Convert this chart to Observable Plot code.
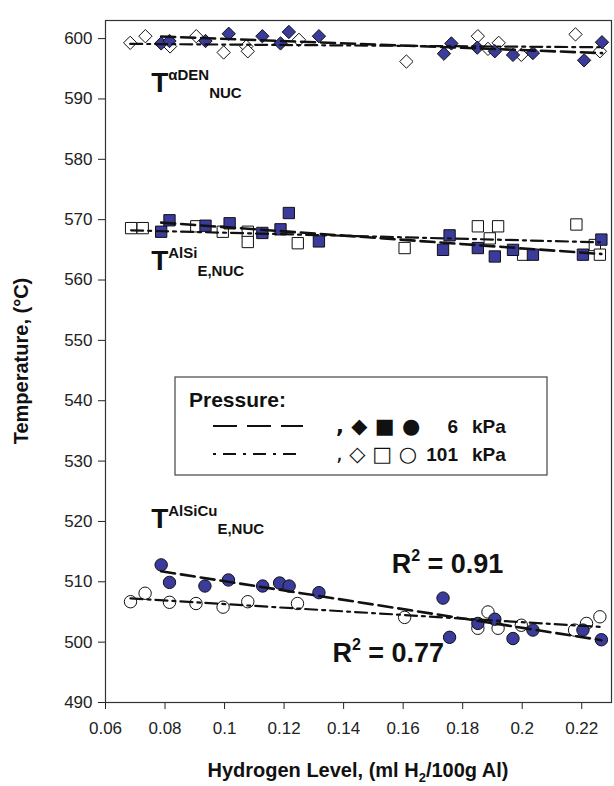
<!DOCTYPE html>
<html><head><meta charset="utf-8">
<script src="https://cdn.jsdelivr.net/npm/d3@7"></script>
<script src="https://cdn.jsdelivr.net/npm/@observablehq/plot@0.6"></script>
<style>
body{margin:0;background:#fff}
svg{font-family:"Liberation Sans",Arial,sans-serif}
</style>
</head><body><div id="chart"></div>
<script>
// ---- data ----
// alpha-Al dendrite nucleation (diamonds)
const diaLowX  = [0.0787,0.0815,0.0936,0.1014,0.1127,0.1188,0.1216,0.1317,0.1737,0.1762,0.1849,0.1908,0.1969,0.2036,0.2208,0.2268];
const diaLowY  = [599.2,599.6,599.6,600.8,600.4,599.2,601.1,600.4,597.5,599.2,598.5,597.9,597.3,597.6,596.4,599.4];
const diaAtmX  = [0.0683,0.0734,0.0817,0.0905,0.0997,0.1073,0.1078,0.1250,0.1611,0.1851,0.1885,0.1921,0.1997,0.2179,0.2261];
const diaAtmY  = [599.3,600.4,598.7,600.4,597.7,598.7,597.9,599.8,596.2,600.4,598.3,599.3,597.3,600.7,597.9];
// Al-Si eutectic nucleation (squares)
const sqLowX   = [0.0787,0.0815,0.0936,0.1017,0.1127,0.1188,0.1216,0.1317,0.1734,0.1756,0.1851,0.1908,0.1969,0.2036,0.2204,0.2266];
const sqLowY   = [568.0,569.9,569.0,569.4,567.8,568.4,571.1,566.4,565.0,567.4,565.3,563.9,565.0,564.2,564.2,566.7];
const sqAtmX   = [0.0686,0.0725,0.0905,0.0994,0.1078,0.1078,0.1246,0.1605,0.1851,0.1891,0.1919,0.2003,0.2182,0.2244,0.2261];
const sqAtmY   = [568.6,568.6,568.9,568.0,568.0,566.3,566.1,565.3,568.9,566.9,568.9,564.2,569.2,565.8,564.2];
// Al-Si-Cu eutectic nucleation (circles)
const ciLowX   = [0.0787,0.0815,0.0934,0.1013,0.1128,0.1185,0.1217,0.1317,0.1734,0.1756,0.1851,0.1908,0.1969,0.2036,0.2204,0.2266];
const ciLowY   = [512.8,509.9,509.3,510.3,509.3,509.8,509.3,508.2,507.3,500.8,503.1,503.8,500.6,502.0,502.0,500.4];
const ciAtmX   = [0.0684,0.0733,0.0815,0.0904,0.0995,0.1078,0.1245,0.1605,0.1885,0.1851,0.1919,0.1997,0.2176,0.2216,0.2261];
const ciAtmY   = [506.7,508.1,506.6,506.4,505.8,506.7,506.4,504.1,505.0,502.3,502.3,502.8,502.0,503.1,504.2];

const xTicks = [0.06,0.08,0.10,0.12,0.14,0.16,0.18,0.20,0.22];
const xTickLabels = ["0.06","0.08","0.1","0.12","0.14","0.16","0.18","0.2","0.22"];
const yTicks = [490,500,510,520,530,540,550,560,570,580,590,600];

const seriesLabels = [
  {x: 0.0755, y: 591.0, sup: "αDEN",   sub: "NUC"},
  {x: 0.0755, y: 561.5, sup: "AlSi",   sub: "E,NUC"},
  {x: 0.0755, y: 518.9, sup: "AlSiCu", sub: "E,NUC"}
];
const r2Labels = [
  {x: 0.1563, y: 511.4, text: "0.91"},
  {x: 0.1364, y: 496.7, text: "0.77"}
];
const legendTitle = "Pressure:";
const legendRows = [
  {symbols: ", ◆ ■ ●", value: "6", unit: "kPa", dash: "24,10"},
  {symbols: ", ◇ □ ○", value: "101", unit: "kPa", dash: "3,7,13,7"}
];

// ---- build rows ----
const rows = [];
function add(xs, ys, shape, pressure) {
  xs.forEach((x, i) => rows.push({x, y: ys[i], shape, pressure}));
}
add(diaLowX, diaLowY, "diamond2", "6");
add(diaAtmX, diaAtmY, "diamond2", "101");
add(sqLowX, sqLowY, "square2", "6");
add(sqAtmX, sqAtmY, "square2", "101");
add(ciLowX, ciLowY, "circle", "6");
add(ciAtmX, ciAtmY, "circle", "101");

const FILL = "#3b3b9c";
const dotMarks = [];
for (const p of ["101", "6"]) {
  for (const s of ["diamond2", "square2", "circle"]) {
    const sub = rows.filter(d => d.pressure === p && d.shape === s);
    const r = s === "circle" ? 6.2 : s === "square2" ? 7.2 : 6.0;
    dotMarks.push(Plot.dot(sub, {x: "x", y: "y", symbol: s, r, fill: p === "6" ? FILL : "white", stroke: "#111", strokeWidth: 1}));
  }
}

const plot = Plot.plot({
  width: 614, height: 786,
  marginTop: 20, marginRight: 3, marginBottom: 84, marginLeft: 105,
  style: {fontFamily: '"Liberation Sans", Arial, sans-serif', fontSize: "16px", color: "#222", background: "white"},
  x: {domain: [0.06, 0.23]},
  y: {domain: [490, 603]},
  marks: [
    Plot.axisY({ticks: yTicks, tickSize: 7, tickPadding: 6, label: null, fontSize: 17}),
    Plot.axisX({ticks: xTicks, tickFormat: d => xTickLabels[xTicks.indexOf(d)], tickSize: 7, tickPadding: 12, label: null, fontSize: 17}),
    ...dotMarks,
    Plot.linearRegressionY(rows.filter(d => d.pressure === "6"), {x: "x", y: "y", z: "shape", stroke: "#111", strokeWidth: 2.6, strokeDasharray: "14,6", ci: 0}),
    Plot.linearRegressionY(rows.filter(d => d.pressure === "101"), {x: "x", y: "y", z: "shape", stroke: "#111", strokeWidth: 2.2, strokeDasharray: "12,5,3,5", ci: 0}),
    Plot.frame({stroke: "#333", strokeWidth: 1.2})
  ]
});

const svg = d3.select(plot);
const sx = plot.scale("x"), sy = plot.scale("y");
const fam = '"Liberation Sans", Arial, sans-serif';

// series labels T^sup_sub
for (const l of seriesLabels) {
  const t = svg.append("text").attr("x", sx.apply(l.x)).attr("y", sy.apply(l.y))
    .attr("text-anchor", "start")
    .attr("font-family", fam).attr("font-weight", "bold").attr("fill", "#111");
  t.append("tspan").attr("font-size", 28).text("T");
  t.append("tspan").attr("font-size", 15).attr("dy", -12).text(l.sup);
  t.append("tspan").attr("font-size", 15).attr("dy", 18).text(l.sub);
}
// R^2 labels
for (const l of r2Labels) {
  const t = svg.append("text").attr("x", sx.apply(l.x)).attr("y", sy.apply(l.y))
    .attr("text-anchor", "start")
    .attr("font-family", fam).attr("font-weight", "bold").attr("fill", "#111").attr("font-size", 27);
  t.append("tspan").text("R");
  t.append("tspan").attr("font-size", 16).attr("dy", -12).text("2");
  t.append("tspan").attr("dy", 12).text(" = " + l.text);
}

// axis titles
svg.append("text").attr("transform", `translate(28,${(20 + 702) / 2}) rotate(-90)`)
  .attr("text-anchor", "middle").attr("font-family", fam).attr("font-weight", "bold")
  .attr("font-size", 20).attr("fill", "#111").text("Temperature, (°C)");
const xt = svg.append("text").attr("x", (105 + 611) / 2).attr("y", 777)
  .attr("text-anchor", "middle").attr("font-family", fam).attr("font-weight", "bold")
  .attr("font-size", 20).attr("fill", "#111");
xt.append("tspan").text("Hydrogen Level, (ml H");
xt.append("tspan").attr("font-size", 13).attr("dy", 5).text("2");
xt.append("tspan").attr("dy", -5).text("/100g Al)");

// legend
const lg = svg.append("g").attr("font-family", fam).attr("font-weight", "bold").attr("fill", "#111").attr("text-anchor", "start");
lg.append("rect").attr("x", 175).attr("y", 377).attr("width", 372).attr("height", 98)
  .attr("fill", "white").attr("stroke", "#444").attr("stroke-width", 1.2);
lg.append("text").attr("x", 189).attr("y", 407).attr("font-size", 21).text(legendTitle);
legendRows.forEach((r, i) => {
  const yy = 426 + i * 28;
  lg.append("line").attr("x1", 213).attr("x2", 303).attr("y1", yy).attr("y2", yy)
    .attr("stroke", "#111").attr("stroke-width", 2.2).attr("stroke-dasharray", r.dash);
  lg.append("text").attr("x", 336).attr("y", yy + 7).attr("font-size", 21).attr("font-weight", i === 0 ? "bold" : "normal")
    .attr("font-family", "DejaVu Sans, sans-serif").text(r.symbols);
  lg.append("text").attr("x", 458).attr("y", yy + 7).attr("font-size", 19).attr("text-anchor", "end").text(r.value);
  lg.append("text").attr("x", 472).attr("y", yy + 7).attr("font-size", 19).text(r.unit);
});

document.getElementById("chart").appendChild(plot);
</script>
</body></html>
